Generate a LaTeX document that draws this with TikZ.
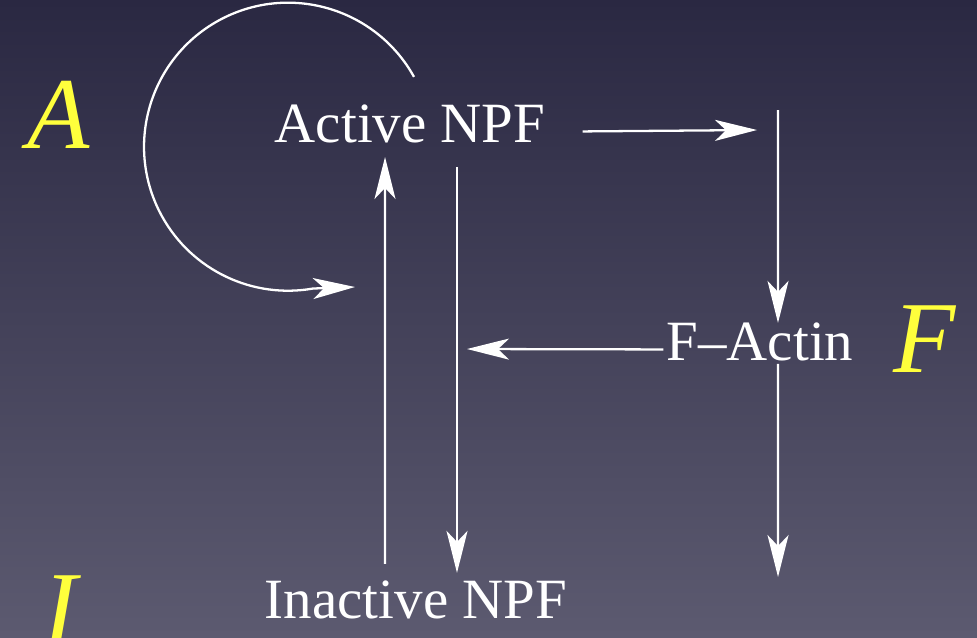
\documentclass[tikz,border=0pt]{standalone}
\usepackage{fontspec}
\setmainfont{Liberation Serif}
\usepackage{xcolor}
\usepackage{tikz}
\usetikzlibrary{arrows.meta, calc, positioning}

\definecolor{bgtop}{RGB}{42,40,66}
\definecolor{bgbot}{RGB}{92,90,112}
\definecolor{lab}{RGB}{255,255,60}

\tikzset{
  species/.style={text=white, font=\fontsize{16.2}{19}\selectfont},
  letter/.style={text=lab, font=\fontsize{29}{32}\selectfont\itshape},
  arr/.style={draw=white, line width=0.65pt,
    -{Stealth[length=4.2mm, width=2.1mm, inset=1.1mm]}}
}

\begin{document}
\begin{tikzpicture}

% Background
\useasboundingbox (0,0) rectangle (9.77,6.37);
\fill[top color=bgtop, bottom color=bgbot] (0,0) rectangle (9.77,6.37);

% Species
\node[species, anchor=base] (active) at (4.10,4.95) {Active NPF};
\node[species, anchor=base] (inactive) at (4.16,0.19) {Inactive NPF};
\node[species, anchor=base] (factin) at (7.60,2.77) {F--Actin};

% Labels
\node[letter, anchor=base] (la) at (0.59,4.89) {A};
\node[letter, anchor=base] (lf) at (9.25,2.65) {F};
\node[letter, anchor=base] (li) at (0.60,-0.05) {I};

% Free ends
\coordinate (corner) at (7.78,5.27);
\coordinate (sink) at (7.78,0.60);
\coordinate (back) at (4.67,2.88);

% Self loop
\draw[arr] ([xshift=0.04cm, yshift=0.15cm]active.north)
  arc[start angle=29, end angle=280, radius=1.44cm] -- (3.55,3.50);

% Active NPF -> F-Actin
\draw[arr] ([xshift=0.25cm, yshift=-0.08cm]active.east) -- ([xshift=-0.21cm, yshift=-0.2cm]corner);
\draw[arr] (corner) -- ([xshift=0.18cm, yshift=-0.13cm]factin.north);

% F-Actin out
\draw[arr] ([xshift=0.18cm, yshift=0.09cm]factin.south) -- (sink);
\draw[arr] ([xshift=0.09cm, yshift=-0.08cm]factin.west) -- (back);

% Active <-> Inactive
\draw[arr] ([xshift=-0.31cm, yshift=0.04cm]inactive.north) -- ([xshift=-0.25cm, yshift=-0.02cm]active.south);
\draw[arr] ([xshift=0.47cm, yshift=-0.12cm]active.south) -- ([xshift=0.41cm, yshift=-0.05cm]inactive.north);

\end{tikzpicture}
\end{document}
